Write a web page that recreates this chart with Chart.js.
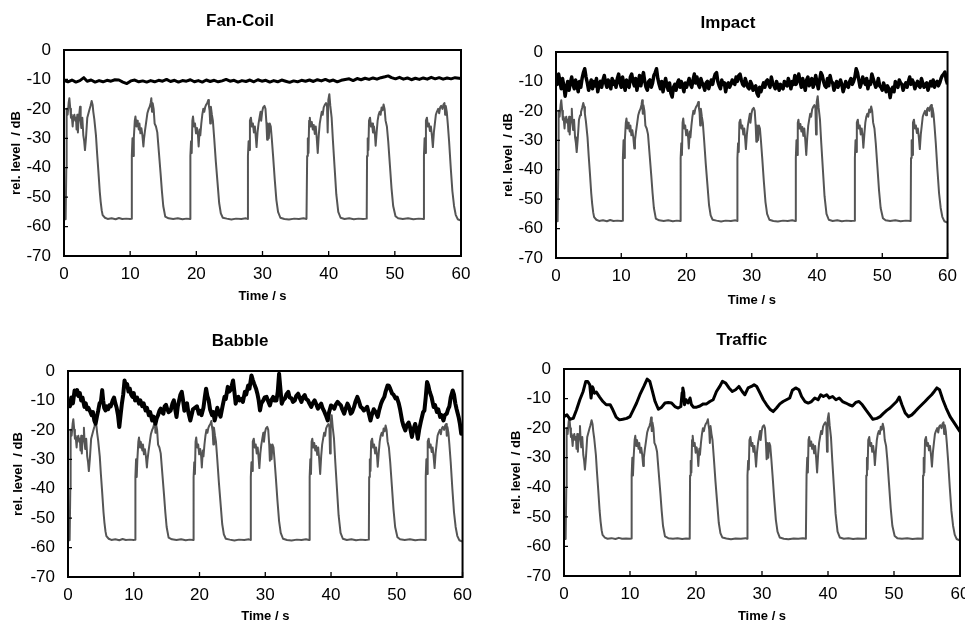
<!DOCTYPE html>
<html>
<head>
<meta charset="utf-8">
<script src="https://cdn.jsdelivr.net/npm/chart.js@4.4.1/dist/chart.umd.min.js"></script>
<style>
  html, body { margin: 0; padding: 0; background: #fff; overflow: hidden; width: 965px; height: 625px; }
  canvas { position: absolute; }
</style>
</head>
<body>
<canvas id="fan" width="480" height="310" style="left:0px;top:0px"></canvas>
<canvas id="impact" width="481" height="312" style="left:484px;top:0px"></canvas>
<canvas id="babble" width="480" height="307" style="left:0px;top:318px"></canvas>
<canvas id="traffic" width="490" height="307" style="left:490px;top:318px"></canvas>
<script>
// time (s), relative level (dB)

// gray speech envelope, identical in all four panels
const speech = [
  [0,-57.3],[0.25,-57.5],[0.35,-40],[0.4,-20],[0.55,-22],[0.7,-18],[0.81,-16.4],[0.95,-20],[1.05,-23],[1.16,-22],
  [1.31,-26],[1.4,-23],[1.56,-22],[1.7,-24],[1.81,-23],[1.9,-27],[2.01,-22],[2.1,-28],[2.17,-25],[2.3,-22],
  [2.42,-19.3],[2.52,-24],[2.62,-26.5],[2.77,-23],[2.92,-29],[3.05,-31],[3.17,-34],[3.32,-30],[3.52,-23],[3.7,-21.5],
  [3.83,-20.4],[4.0,-19],[4.18,-17.3],[4.33,-18.7],[4.43,-21],[4.58,-23.5],[4.83,-29],[5.0,-35],[5.19,-41],[5.4,-48],
  [5.54,-51.5],[5.7,-54.5],[5.84,-56.1],[6.19,-57],[6.6,-57.4],[7.2,-57.2],[7.8,-57.5],[8.3,-57.1],[8.8,-57.4],[9.4,-57.3],
  [10.0,-57.4],[10.2,-57.3],[10.25,-36],[10.35,-30],[10.45,-36],[10.55,-30],[10.7,-24],[10.8,-22.6],[10.95,-26],[11.05,-24],
  [11.15,-25],[11.3,-27],[11.4,-25],[11.55,-28.3],[11.7,-26.6],[11.85,-29],[12.0,-32.8],[12.1,-30],[12.25,-27.2],[12.45,-24],
  [12.6,-21.5],[12.8,-20],[12.95,-19.3],[13.1,-18],[13.2,-16.4],[13.3,-21],[13.4,-18.1],[13.55,-20],[13.7,-25],[13.9,-26],
  [14.1,-28],[14.35,-35],[14.6,-42],[14.8,-48],[15.0,-53],[15.3,-56.6],[15.8,-57.2],[16.5,-57.4],[17.2,-57.2],[17.9,-57.5],
  [18.5,-57.3],[19.05,-57.4],[19.1,-36],[19.2,-31],[19.3,-35],[19.4,-24],[19.5,-22.6],[19.65,-26],[19.8,-25],[19.95,-28.3],
  [20.1,-26.5],[20.25,-29],[20.35,-32.8],[20.5,-27],[20.6,-29],[20.75,-25],[20.9,-22],[21.05,-20],[21.2,-21],[21.35,-19.3],
  [21.5,-18.5],[21.65,-18],[21.8,-17],[21.9,-19],[22.0,-20.5],[22.1,-25],[22.2,-19.3],[22.35,-22],[22.5,-24],[22.7,-30],
  [22.95,-38],[23.2,-45],[23.45,-52],[23.7,-55.5],[24.0,-57],[24.6,-57.3],[25.3,-57.6],[26.0,-57.3],[26.8,-57.4],[27.5,-57.2],
  [27.75,-57.4],[27.8,-36],[27.9,-31],[28.0,-34],[28.1,-24],[28.25,-23],[28.4,-26],[28.55,-25],[28.7,-28],[28.85,-26],
  [29.0,-30],[29.1,-33],[29.25,-28],[29.4,-25],[29.55,-23],[29.7,-21],[29.8,-24],[29.95,-21],[30.1,-19.5],[30.3,-19],
  [30.45,-20],[30.6,-25],[30.7,-30.5],[30.8,-25],[30.95,-30],[31.1,-25],[31.25,-26],[31.4,-30],[31.6,-36],[31.85,-44],
  [32.1,-51],[32.35,-55],[32.7,-57],[33.3,-57.4],[34.0,-57.6],[34.8,-57.3],[35.5,-57.4],[36.2,-57.2],[36.65,-57.4],[36.75,-36],
  [36.85,-30],[36.95,-35],[37.05,-24],[37.15,-23],[37.3,-26],[37.45,-24.5],[37.6,-27],[37.75,-25.5],[37.9,-28.5],[38.05,-26],
  [38.2,-30],[38.35,-35],[38.5,-29],[38.65,-25],[38.8,-23],[38.95,-21],[39.1,-22],[39.25,-19.5],[39.45,-18.5],[39.6,-18],
  [39.75,-19],[39.85,-28],[39.95,-17],[40.1,-15],[40.25,-19],[40.45,-23],[40.65,-31],[40.9,-40],[41.15,-49],[41.45,-55],
  [41.8,-57],[42.4,-57.4],[43.1,-57.2],[43.8,-57.5],[44.5,-57.3],[45.2,-57.4],[45.75,-57.3],[45.8,-36],[45.9,-30],[46.0,-34],
  [46.1,-24],[46.25,-23],[46.4,-26],[46.55,-25],[46.7,-28],[46.85,-26],[47.0,-29],[47.1,-32.5],[47.25,-28],[47.4,-24],
  [47.55,-22],[47.7,-21],[47.85,-22],[48.0,-19.5],[48.15,-20.5],[48.3,-18.5],[48.45,-20],[48.6,-24],[48.8,-26],[49.0,-31],
  [49.25,-39],[49.5,-47],[49.75,-53],[50.1,-56.5],[50.5,-57.2],[51.2,-57.4],[52.0,-57.2],[52.8,-57.5],[53.6,-57.3],[54.35,-57.4],
  [54.4,-36],[54.5,-30],[54.6,-35],[54.7,-24],[54.85,-23],[55.0,-26],[55.15,-25],[55.3,-27.5],[55.45,-26],[55.6,-29],
  [55.75,-33],[55.9,-28],[56.05,-25],[56.2,-22],[56.35,-21],[56.55,-20],[56.7,-21.5],[56.85,-19.5],[57.0,-19],[57.2,-20],
  [57.35,-18.5],[57.5,-18],[57.6,-22],[57.7,-19],[57.85,-21],[58.0,-25],[58.2,-31],[58.45,-40],[58.7,-48],[58.95,-53],
  [59.2,-56],[59.5,-57.5],[60,-58]
];

// black noise levels
const fanCoil = [
  [0,-10.3],[0.6,-10.8],[1.2,-10.2],[1.8,-10.9],[2.4,-10.4],[3.0,-9.4],[3.5,-10.6],[4.1,-10.2],[4.7,-10.9],[5.3,-10.4],
  [5.9,-10.8],[6.5,-10.3],[7.1,-10.6],[7.7,-10.1],[8.3,-10.2],[8.9,-10.9],[9.5,-11.4],[10.1,-10.5],[10.7,-10.2],[11.3,-10.8],
  [11.9,-10.5],[12.5,-10.9],[13.1,-10.4],[13.7,-10.8],[14.3,-10.3],[14.9,-10.6],[15.5,-10.0],[16.1,-10.7],[16.7,-10.3],[17.3,-10.9],
  [17.9,-10.4],[18.5,-10.6],[19.1,-10.1],[19.7,-10.8],[20.3,-10.4],[20.9,-10.9],[21.5,-10.2],[22.1,-10.7],[22.7,-10.3],[23.3,-10.8],
  [23.9,-10.5],[24.5,-10.0],[25.1,-10.6],[25.7,-10.3],[26.3,-10.9],[26.9,-10.4],[27.5,-10.7],[28.1,-10.2],[28.7,-10.8],[29.3,-10.1],
  [29.9,-10.6],[30.5,-10.3],[31.1,-10.9],[31.7,-10.4],[32.3,-10.8],[32.9,-10.2],[33.5,-10.6],[34.1,-11.0],[34.7,-10.5],[35.3,-10.8],
  [35.9,-10.3],[36.5,-10.6],[37.1,-10.2],[37.7,-10.7],[38.3,-10.1],[38.9,-10.5],[39.5,-10.0],[40.1,-10.6],[40.7,-10.2],[41.3,-10.8],
  [41.9,-10.3],[42.5,-10.0],[43.1,-9.8],[43.7,-10.4],[44.3,-9.7],[44.9,-10.1],[45.5,-9.6],[46.1,-10.0],[46.7,-9.5],[47.3,-9.9],
  [47.9,-9.4],[48.5,-9.1],[49.0,-8.8],[49.5,-9.4],[50.1,-9.8],[50.7,-9.3],[51.3,-9.9],[51.9,-9.5],[52.5,-10.1],[53.1,-9.6],
  [53.7,-10.0],[54.3,-9.5],[54.9,-9.9],[55.5,-9.3],[56.1,-9.8],[56.7,-9.4],[57.3,-9.9],[57.9,-9.5],[58.5,-9.8],[59.1,-9.4],
  [60,-9.7]
];

const impact = [
  [0,-8.5],[0.2,-11],[0.4,-7.5],[0.6,-10],[0.8,-12.5],[1.0,-9],[1.2,-11.5],[1.4,-15],[1.6,-12],[1.8,-10],
  [2.0,-13],[2.2,-10.5],[2.4,-8.5],[2.6,-11],[2.8,-12.5],[3.0,-9.5],[3.2,-11],[3.4,-13.5],[3.6,-10],[3.8,-12],
  [4.0,-9],[4.2,-7],[4.4,-5.7],[4.6,-8.5],[4.8,-10.5],[5.0,-13],[5.2,-11],[5.4,-9.5],[5.6,-12.5],[5.8,-10],
  [6.0,-11.5],[6.2,-9],[6.4,-13.5],[6.6,-11],[6.8,-10],[7.0,-12],[7.2,-9.5],[7.4,-8],[7.6,-10.5],[7.8,-12],
  [8.0,-9.5],[8.2,-11],[8.4,-12.5],[8.6,-9],[8.8,-11],[9.0,-10],[9.2,-12],[9.4,-9],[9.6,-7.5],[9.8,-10.5],
  [10.0,-12],[10.2,-8.5],[10.4,-11],[10.6,-13],[10.8,-9.5],[11.0,-11],[11.2,-12],[11.4,-8.5],[11.6,-7.5],[11.8,-10],
  [12.0,-11.5],[12.2,-9],[12.4,-13],[12.6,-10.5],[12.8,-8],[13.0,-11.5],[13.2,-9],[13.4,-7],[13.6,-10],[13.8,-12],
  [14.0,-13],[14.2,-10],[14.4,-9.5],[14.6,-12],[14.8,-10.5],[15.0,-8],[15.2,-7],[15.4,-5.7],[15.6,-9],[15.8,-11],
  [16.0,-12.5],[16.2,-10],[16.4,-13.5],[16.6,-11],[16.8,-9],[17.0,-11.5],[17.2,-13],[17.4,-10.5],[17.6,-14],[17.8,-15.3],
  [18.0,-12],[18.2,-11],[18.4,-13],[18.6,-10.5],[18.8,-9.5],[19.0,-12],[19.2,-10],[19.4,-11.5],[19.6,-13.5],[19.8,-10.5],
  [20.0,-12],[20.2,-10.5],[20.4,-9],[20.6,-11],[20.8,-12],[21.0,-9.5],[21.2,-7.5],[21.4,-10.5],[21.6,-8.5],[21.8,-11],
  [22.0,-12],[22.2,-9],[22.4,-10.5],[22.6,-11.5],[22.8,-13],[23.0,-10.5],[23.2,-10],[23.4,-12.5],[23.6,-11],[23.8,-9.5],
  [24.0,-11],[24.2,-9],[24.4,-7.5],[24.6,-7],[24.8,-10],[25.0,-11.5],[25.2,-12.5],[25.4,-9.5],[25.6,-11],[25.8,-10.5],
  [26.0,-13.5],[26.2,-11],[26.4,-10.5],[26.6,-12],[26.8,-11],[27.0,-9.5],[27.2,-10.5],[27.4,-11],[27.6,-8.5],[27.8,-10],
  [28.0,-8],[28.2,-7.5],[28.4,-9.5],[28.6,-11],[28.8,-11.5],[29.0,-9],[29.2,-10.5],[29.4,-12],[29.6,-12.5],[29.8,-10],
  [30.0,-11],[30.2,-13],[30.4,-12],[30.6,-11.5],[30.8,-14],[31.0,-15],[31.2,-12],[31.4,-13.5],[31.6,-12],[31.8,-10.5],
  [32.0,-12],[32.2,-10],[32.4,-9.5],[32.6,-11],[32.8,-12],[33.0,-8.5],[33.2,-10.5],[33.4,-11.5],[33.6,-12.5],[33.8,-10],
  [34.0,-11.5],[34.2,-13],[34.4,-11],[34.6,-12],[34.8,-12.5],[35.0,-10],[35.2,-11],[35.4,-11.5],[35.6,-9],[35.8,-10.5],
  [36.0,-12.5],[36.2,-10],[36.4,-11],[36.6,-8],[36.8,-11],[37.0,-9.5],[37.2,-7.5],[37.4,-10],[37.6,-12],[37.8,-9],
  [38.0,-11],[38.2,-13],[38.4,-9.5],[38.6,-8.5],[38.8,-11.5],[39.0,-10],[39.2,-9],[39.4,-12],[39.6,-10.5],[39.8,-8],
  [40.0,-10.5],[40.2,-12.5],[40.4,-9.5],[40.6,-7],[40.8,-8],[41.0,-10],[41.2,-11.5],[41.4,-12],[41.6,-9],[41.8,-11.5],
  [42.0,-8],[42.2,-10],[42.4,-10.5],[42.6,-13],[42.8,-11.5],[43.0,-10],[43.2,-12],[43.4,-11],[43.6,-9.5],[43.8,-11],
  [44.0,-13.5],[44.2,-12],[44.4,-10],[44.6,-11.5],[44.8,-12],[45.0,-10],[45.2,-9],[45.4,-11],[45.6,-10],[45.8,-8.5],
  [46.0,-5.7],[46.2,-7],[46.4,-9.5],[46.6,-12],[46.8,-10.5],[47.0,-8.5],[47.2,-10],[47.4,-11],[47.6,-9],[47.8,-12.5],
  [48.0,-10],[48.2,-11],[48.4,-7.5],[48.6,-9],[48.8,-10.5],[49.0,-12],[49.2,-11],[49.4,-9],[49.6,-11.5],[49.8,-12],
  [50.0,-13],[50.2,-10.5],[50.4,-12],[50.6,-13.5],[50.8,-11.5],[51.0,-12.5],[51.2,-15.5],[51.4,-13],[51.6,-12],[51.8,-13.5],
  [52.0,-10],[52.2,-11.5],[52.4,-12],[52.6,-9.5],[52.8,-10.5],[53.0,-11],[53.2,-13],[53.4,-11.5],[53.6,-10.5],[53.8,-12],
  [54.0,-10],[54.2,-8.5],[54.4,-11],[54.6,-9.5],[54.8,-10.5],[55.0,-12.5],[55.2,-11],[55.4,-10],[55.6,-11.5],[55.8,-12],
  [56.0,-9],[56.2,-10.5],[56.4,-12],[56.6,-11],[56.8,-10.5],[57.0,-13],[57.2,-11.5],[57.4,-10],[57.6,-11.5],[57.8,-9.5],
  [58.0,-12],[58.2,-10.5],[58.4,-10],[58.6,-11.5],[58.8,-10.5],[59.0,-9],[59.2,-8],[59.4,-7.5],[59.6,-6.8],[59.8,-9.5],
  [60,-11]
];

const babble = [
  [0,-10],[0.3,-12],[0.5,-9],[0.75,-11],[1.0,-6.6],[1.2,-8],[1.4,-6.5],[1.6,-8.5],[1.8,-7.5],[2.0,-10],
  [2.2,-9],[2.5,-12.2],[2.7,-11],[2.9,-13],[3.1,-12.5],[3.4,-13.9],[3.6,-15],[3.8,-14],[4.0,-16.8],[4.2,-17.9],
  [4.4,-15.5],[4.6,-13.4],[4.8,-11],[5.0,-10.5],[5.2,-6.5],[5.35,-10],[5.5,-12.5],[5.7,-13.4],[5.9,-12],[6.1,-13],
  [6.3,-11.7],[6.5,-12],[6.8,-10],[7.0,-9],[7.2,-11],[7.4,-12.5],[7.6,-15],[7.8,-19],[8.0,-15],[8.2,-11],
  [8.4,-8],[8.6,-3.2],[8.8,-5],[9.0,-4.5],[9.2,-7],[9.4,-6],[9.6,-8],[9.8,-8.8],[10.0,-7.5],[10.2,-10],
  [10.5,-9],[10.8,-11.1],[11.0,-10],[11.3,-12],[11.5,-11],[11.8,-13.4],[12.0,-12.5],[12.3,-15],[12.5,-14],[12.8,-16.8],
  [13.0,-15.5],[13.3,-17.9],[13.5,-16],[13.7,-15],[13.9,-13.5],[14.1,-12.8],[14.3,-14],[14.5,-14.5],[14.7,-12],[14.9,-11.5],
  [15.1,-13],[15.3,-14],[15.6,-13.5],[15.9,-11],[16.1,-10],[16.3,-13],[16.5,-15.6],[16.7,-12],[16.9,-10],[17.1,-8],
  [17.3,-7.1],[17.5,-10],[17.7,-13.5],[17.9,-12],[18.1,-11],[18.3,-14],[18.6,-16.8],[18.8,-15],[19.0,-13],[19.3,-12.5],
  [19.6,-12],[19.9,-14.5],[20.1,-13.5],[20.3,-15],[20.6,-12.5],[20.8,-9],[21.0,-6],[21.2,-8.5],[21.4,-10],[21.6,-13],
  [21.9,-15],[22.1,-14],[22.3,-16.8],[22.5,-15],[22.7,-12.5],[22.9,-14],[23.2,-15.5],[23.5,-12],[23.8,-8.8],[24.0,-9.5],
  [24.3,-5.4],[24.5,-7],[24.7,-6.5],[24.9,-5],[25.1,-3.2],[25.3,-7],[25.5,-11.1],[25.7,-9],[25.9,-8.8],[26.1,-10],
  [26.4,-9.5],[26.6,-10.5],[26.9,-7.1],[27.1,-8],[27.4,-4.9],[27.6,-6],[27.9,-1.5],[28.1,-3],[28.3,-4.3],[28.6,-6],
  [28.8,-7.7],[29.0,-10],[29.2,-13.4],[29.4,-11],[29.7,-10],[29.9,-9],[30.2,-8.8],[30.4,-10],[30.7,-11.7],[30.9,-10],
  [31.2,-8.8],[31.4,-10],[31.7,-10],[31.9,-7],[32.1,-0.9],[32.3,-6],[32.5,-11.1],[32.7,-10],[33.0,-9.3],[33.2,-8],
  [33.5,-7.1],[33.7,-9],[34.0,-9.3],[34.2,-10.5],[34.5,-10],[34.7,-8.5],[35.0,-7.7],[35.2,-9],[35.5,-10.5],[35.7,-9],
  [36.0,-8.2],[36.2,-9.5],[36.5,-10],[36.7,-11],[37.0,-12.2],[37.2,-11],[37.5,-10],[37.7,-11],[38.0,-12.8],[38.2,-12],
  [38.5,-11.1],[38.7,-12.5],[39.0,-13.9],[39.2,-15],[39.5,-16.8],[39.7,-14],[40.0,-11.7],[40.2,-12],[40.5,-12.8],[40.7,-11.5],
  [41.0,-10.5],[41.2,-11],[41.5,-11.7],[41.7,-13],[42.0,-14.5],[42.2,-13],[42.5,-11.1],[42.7,-12],[43.0,-14.5],[43.2,-14],
  [43.5,-12.2],[43.7,-10.5],[44.0,-8.8],[44.2,-10],[44.5,-12.2],[44.7,-12.5],[45.0,-13.4],[45.2,-13],[45.5,-12.2],[45.7,-14],
  [46.0,-16.8],[46.2,-15],[46.5,-13],[46.8,-14],[47.1,-15.6],[47.3,-13.5],[47.6,-11.1],[47.8,-10],[48.1,-8.8],[48.3,-7],
  [48.6,-4.9],[48.8,-5],[49.0,-6],[49.3,-7.7],[49.5,-8],[49.8,-9.3],[50.0,-9],[50.3,-11],[50.5,-13],[50.8,-16.8],
  [51.0,-18.5],[51.3,-20.2],[51.5,-18.5],[51.8,-17.5],[52.0,-19],[52.3,-22.4],[52.5,-20],[52.8,-18],[53.0,-20],[53.2,-23],
  [53.4,-20],[53.7,-16.8],[54.0,-14],[54.2,-13.4],[54.4,-9],[54.6,-3.7],[54.8,-5],[55.0,-7],[55.3,-9],[55.6,-12.2],
  [55.8,-11.5],[56.1,-13.9],[56.3,-13],[56.6,-15.6],[56.8,-15],[57.1,-16.8],[57.3,-15],[57.6,-14.5],[57.8,-13],[58.0,-12],
  [58.2,-9],[58.5,-6.6],[58.7,-8],[58.9,-11],[59.1,-13],[59.4,-15.6],[59.6,-18],[59.8,-21.3],[60,-19]
];

const traffic = [
  [0,-16.1],[0.45,-15.5],[0.9,-17],[1.4,-16.7],[1.9,-13.8],[2.4,-10.4],[2.9,-7.6],[3.3,-4.2],[3.6,-4.2],[3.9,-5.3],
  [4.1,-9.8],[4.3,-6],[4.4,-6.4],[4.6,-8.2],[4.9,-7.8],[5.4,-9.5],[5.9,-11],[6.4,-12.1],[7.0,-12.1],[7.4,-13.8],
  [7.9,-16.3],[8.4,-17.2],[8.9,-17],[9.5,-16.7],[10.0,-16.1],[10.5,-13.8],[11.0,-11.5],[11.5,-8.7],[12.1,-5.9],[12.6,-3.4],
  [13.0,-4.2],[13.4,-7.6],[13.8,-11],[14.3,-13.6],[14.8,-12.9],[15.3,-11.5],[15.8,-11.3],[16.3,-11.5],[16.8,-12.7],[17.3,-13.2],
  [17.7,-12.7],[17.9,-8],[18.0,-6.4],[18.15,-8],[18.25,-12.1],[18.5,-10.4],[18.8,-11.5],[19.1,-9.8],[19.3,-12],[19.6,-12.9],
  [20.1,-12.9],[20.6,-12.5],[21.1,-11.8],[21.6,-11.8],[22.1,-11],[22.6,-10.4],[23.1,-7.6],[23.6,-5.9],[24.0,-4.2],[24.5,-4.8],
  [25.0,-6.4],[25.5,-7.6],[26.0,-7],[26.5,-5.9],[27.0,-7.6],[27.4,-8.7],[27.9,-6.4],[28.4,-5.9],[28.8,-5.3],[29.2,-5.9],
  [29.7,-8.1],[30.2,-10.4],[30.7,-12.1],[31.2,-13.6],[31.7,-14.4],[32.2,-13.2],[32.7,-11.8],[33.2,-11],[33.7,-10.4],[34.2,-9.8],
  [34.6,-7.2],[35.1,-6.4],[35.6,-7],[36.0,-9.3],[36.5,-11],[37.0,-11.5],[37.5,-11],[38.0,-9.8],[38.5,-10.4],[38.9,-8.7],
  [39.3,-9.3],[39.8,-8.7],[40.2,-9.8],[40.7,-9.3],[41.2,-10.4],[41.7,-9.8],[42.2,-11],[42.7,-11.5],[43.2,-12.1],[43.7,-12.5],
  [44.2,-11.3],[44.7,-11],[45.2,-12.1],[45.8,-14],[46.3,-15.5],[46.8,-17],[47.4,-16.7],[47.9,-16.1],[48.4,-15],[48.9,-14],
  [49.4,-13.2],[49.9,-12.1],[50.4,-11],[50.8,-9.5],[51.2,-12.1],[51.7,-14.9],[52.2,-16.1],[52.7,-15.5],[53.2,-14.4],[53.7,-13.2],
  [54.2,-12.1],[54.7,-11],[55.2,-9.8],[55.7,-8.7],[56.1,-7.6],[56.5,-6.4],[56.9,-7],[57.4,-10.4],[57.9,-13.2],[58.5,-16.1],
  [59.0,-17.8],[59.5,-19.5],[60,-21.2]
];

const xTicks = { min: 0, max: 60, step: 10 };
const yTicks = { min: -70, max: 0, step: 10 };

const FONT = "'Liberation Sans', Arial, Helvetica, sans-serif";

// frame round the plot and short inward tick marks
const framePlugin = {
  id: 'frame',
  afterDatasetsDraw(chart) {
    const { ctx, chartArea: a, scales: { x, y } } = chart;
    ctx.save();
    ctx.strokeStyle = '#000';
    ctx.lineWidth = 1.3;
    ctx.beginPath();
    x.ticks.forEach(t => {
      const px = x.getPixelForValue(t.value);
      ctx.moveTo(px, a.bottom); ctx.lineTo(px, a.bottom - 5);
    });
    y.ticks.forEach(t => {
      const py = y.getPixelForValue(t.value);
      ctx.moveTo(a.left, py); ctx.lineTo(a.left + 4, py);
    });
    ctx.stroke();
    ctx.lineWidth = 2;
    ctx.strokeRect(a.left, a.top, a.right - a.left, a.bottom - a.top);
    ctx.restore();
  }
};

const panels = [
  { id: 'fan', title: 'Fan-Coil', noise: fanCoil, noiseWidth: 3,
    pad: { left: 19, right: 19 }, yWidth: 45, yTitlePad: -10.8, titlePad: { top: 10.8, bottom: 18.8 }, xHeight: 54, xTitlePad: 5.5 },
  { id: 'impact', title: 'Impact', noise: impact, noiseWidth: 3.5,
    pad: { left: 20, right: 13 }, yWidth: 52, yTitlePad: -3.8, titlePad: { top: 12.8, bottom: 18.8 }, xHeight: 54, xTitlePad: 4.2 },
  { id: 'babble', title: 'Babble', noise: babble, noiseWidth: 4,
    pad: { left: 14, right: 14 }, yWidth: 54, yTitlePad: -3.8, titlePad: { top: 13.5, bottom: 19.1 }, xHeight: 48, xTitlePad: 0.5 },
  { id: 'traffic', title: 'Traffic', noise: traffic, noiseWidth: 3,
    pad: { left: 33.4, right: 20 }, yWidth: 40.6, yTitlePad: -14.5, titlePad: { top: 11.8, bottom: 18.8 }, xHeight: 49, xTitlePad: 0.5 }
];

const toPoints = arr => arr.map(([t, v]) => ({ x: t, y: v }));

panels.forEach(p => {
  new Chart(document.getElementById(p.id), {
    type: 'line',
    data: {
      datasets: [
        { label: p.title, data: toPoints(p.noise), borderColor: '#000', borderWidth: p.noiseWidth,
          pointRadius: 0, tension: 0, borderJoinStyle: 'round', order: 0 },
        { label: 'Speech', data: toPoints(speech), borderColor: '#555555', borderWidth: 2,
          pointRadius: 0, tension: 0, borderJoinStyle: 'round', order: 1 }
      ]
    },
    options: {
      responsive: false,
      animation: false,
      events: [],
      layout: { padding: { left: p.pad.left, right: p.pad.right, top: 0, bottom: 0 } },
      plugins: {
        legend: { display: false },
        tooltip: { enabled: false },
        title: {
          display: true, text: p.title, color: '#000',
          font: { family: FONT, size: 17, weight: 'bold' },
          padding: p.titlePad
        }
      },
      scales: {
        x: {
          type: 'linear', min: xTicks.min, max: xTicks.max,
          afterFit: s => { s.height = p.xHeight; },
          grid: { display: false, drawTicks: false },
          border: { display: false },
          ticks: { stepSize: xTicks.step, color: '#000', font: { family: FONT, size: 17 }, padding: 8, maxRotation: 0, autoSkip: false },
          title: { display: true, text: 'Time / s', color: '#000', font: { family: FONT, size: 13, weight: 'bold' },
                   padding: { top: 0, bottom: p.xTitlePad } }
        },
        y: {
          type: 'linear', min: yTicks.min, max: yTicks.max,
          afterFit: s => { s.width = p.yWidth; },
          grid: { display: false, drawTicks: false },
          border: { display: false },
          ticks: { stepSize: yTicks.step, color: '#000', font: { family: FONT, size: 17 }, padding: 13 },
          title: { display: true, text: 'rel. level  / dB', color: '#000', font: { family: FONT, size: 13, weight: 'bold' },
                   padding: { top: p.yTitlePad, bottom: 0 } }
        }
      }
    },
    plugins: [framePlugin]
  });
});
</script>
</body>
</html>
